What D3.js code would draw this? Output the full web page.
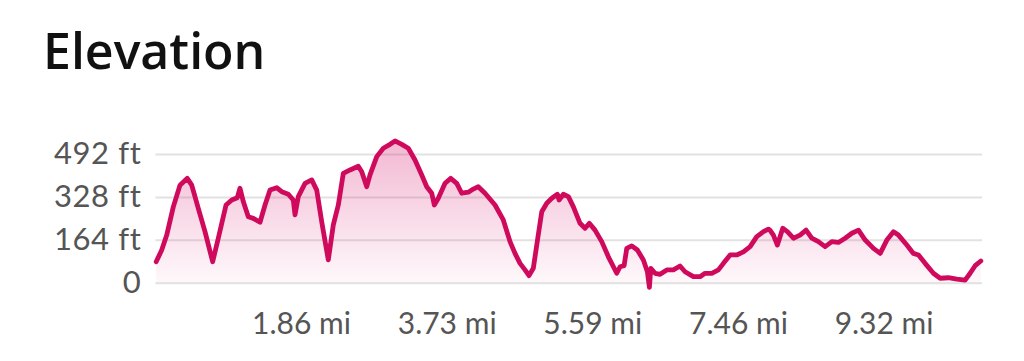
<!DOCTYPE html>
<html>
<head>
<meta charset="utf-8">
<script src="https://cdn.jsdelivr.net/npm/d3@7"></script>
<style>
  html, body { margin: 0; padding: 0; background: #fff; }
  svg { display: block; }
</style>
</head>
<body>
<svg id="chart" width="1024" height="361"></svg>
<script>
const title = "Elevation";
const distanceMi = [0.01,0.081,0.145,0.229,0.315,0.408,0.465,0.549,0.635,0.733,0.805,0.904,0.977,1.048,1.083,1.125,1.189,1.253,1.339,1.403,1.467,1.553,1.617,1.701,1.765,1.787,1.829,1.915,2.001,2.065,2.129,2.213,2.277,2.341,2.405,2.491,2.597,2.641,2.705,2.747,2.833,2.917,3.003,3.067,3.153,3.237,3.323,3.409,3.473,3.537,3.570,3.621,3.707,3.780,3.857,3.921,4.005,4.069,4.133,4.219,4.347,4.453,4.539,4.603,4.667,4.731,4.782,4.837,4.894,4.945,5.009,5.073,5.145,5.167,5.222,5.286,5.350,5.435,5.499,5.554,5.627,5.713,5.798,5.905,5.947,5.999,6.033,6.097,6.169,6.246,6.297,6.323,6.341,6.396,6.460,6.545,6.630,6.715,6.779,6.886,6.971,7.035,7.121,7.206,7.270,7.356,7.441,7.526,7.612,7.697,7.782,7.846,7.866,7.910,7.961,8.030,8.089,8.166,8.251,8.328,8.401,8.486,8.572,8.658,8.742,8.828,8.914,8.999,9.085,9.191,9.277,9.362,9.447,9.511,9.618,9.702,9.767,9.852,9.958,10.044,10.150,10.258,10.364,10.428,10.492,10.565];
const elevationFt = [80,125,182,290,373,399,373,284,195,80,170,297,316,325,361,310,252,246,231,297,354,363,348,338,316,259,329,380,393,354,233,87,221,297,418,431,445,424,367,412,482,514,529,542,529,514,469,412,367,342,297,323,380,399,380,342,346,358,367,342,297,240,157,112,74,49,27,55,170,271,304,323,338,316,338,329,290,227,208,227,201,157,99,36,61,65,131,141,125,87,42,-18,55,36,32,49,49,64,42,23,23,36,36,49,74,106,106,118,138,176,195,205,201,182,144,208,195,170,182,201,170,157,138,157,154,170,189,201,163,131,112,163,195,182,144,112,106,74,36,17,19,14,10,36,65,83];
const yTicks = [0, 164, 328, 492];
const yTickLabels = ["0", "164 ft", "328 ft", "492 ft"];
const xTicks = [1.864, 3.728, 5.592, 7.456, 9.32];
const xTickLabels = ["1.86 mi", "3.73 mi", "5.59 mi", "7.46 mi", "9.32 mi"];

const data = distanceMi.map((d, i) => ({ x: d, y: elevationFt[i] }));

const svg = d3.select("#chart");
const plotLeft = 155.4, plotRight = 982, plotTop = 154, plotBottom = 282.7;

const x = d3.scaleLinear().domain([0, 10.58]).range([plotLeft, plotRight]);
const y = d3.scaleLinear().domain([0, 492]).range([plotBottom, plotTop]);

svg.append("text")
  .attr("x", 43).attr("y", 69)
  .attr("font-family", "'Open Sans', 'Noto Sans', sans-serif")
  .attr("font-weight", 600)
  .attr("font-size", 50)
  .attr("fill", "#111")
  .style("font-variant-ligatures", "none")
  .text(title);

const defs = svg.append("defs");
const grad = defs.append("linearGradient")
  .attr("id", "areaGrad")
  .attr("gradientUnits", "userSpaceOnUse")
  .attr("x1", 0).attr("x2", 0)
  .attr("y1", y(542)).attr("y2", y(0));
grad.append("stop").attr("offset", 0).attr("stop-color", "#d6136a").attr("stop-opacity", 0.3);
grad.append("stop").attr("offset", 1).attr("stop-color", "#d6136a").attr("stop-opacity", 0.03);

const yAxis = d3.axisLeft(y).tickValues(yTicks)
  .tickSize(-(plotRight - plotLeft))
  .tickFormat((d, i) => yTickLabels[i]);
const gy = svg.append("g").attr("transform", `translate(${plotLeft},0)`).call(yAxis);
gy.select(".domain").remove();
gy.selectAll(".tick line").attr("stroke", "#e2e2e2").attr("stroke-width", 2);
gy.selectAll(".tick text")
  .attr("x", -14)
  .attr("font-family", "Lato, 'Noto Sans', sans-serif")
  .attr("font-size", 31)
  .attr("letter-spacing", 0.6)
  .attr("fill", "#555");

const xAxis = d3.axisBottom(x).tickValues(xTicks)
  .tickSize(0)
  .tickFormat((d, i) => xTickLabels[i]);
const gx = svg.append("g").attr("transform", `translate(0,${plotBottom})`).call(xAxis);
gx.select(".domain").remove();
gx.selectAll(".tick text")
  .attr("y", 30)
  .attr("dy", "0.71em")
  .attr("font-family", "Lato, 'Noto Sans', sans-serif")
  .attr("font-size", 30)
  .attr("fill", "#555");

const area = d3.area().x(d => x(d.x)).y0(y(0)).y1(d => y(d.y));
const line = d3.line().x(d => x(d.x)).y(d => y(d.y));

svg.append("path").datum(data).attr("d", area).attr("fill", "url(#areaGrad)");
svg.append("path").datum(data).attr("d", line)
  .attr("fill", "none")
  .attr("stroke", "#cf0a5c")
  .attr("stroke-width", 4.8)
  .attr("stroke-linejoin", "round")
  .attr("stroke-linecap", "round");
</script>
</body>
</html>
